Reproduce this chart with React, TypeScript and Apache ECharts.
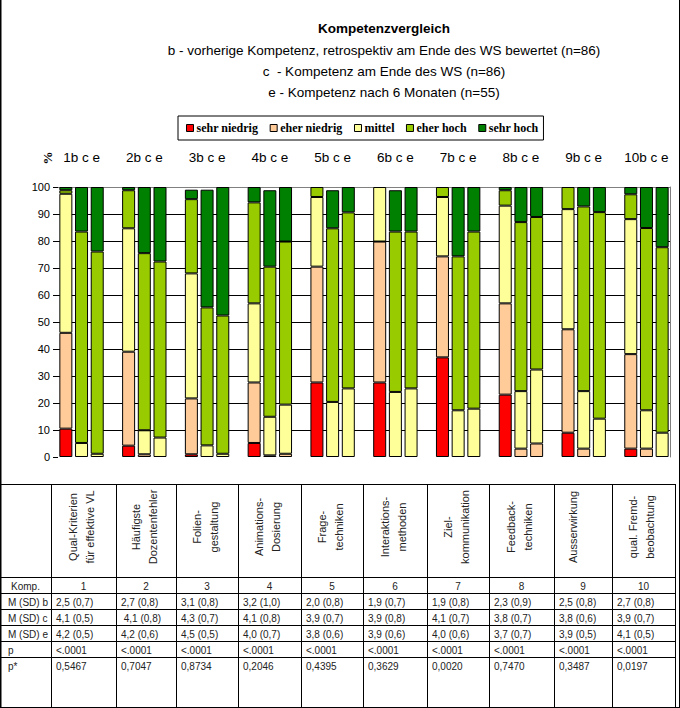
import React, { useEffect, useRef } from 'react';
import * as echarts from 'echarts';

// ---------- data ----------
const levels = ['sehr niedrig', 'eher niedrig', 'mittel', 'eher hoch', 'sehr hoch'];
const levelColors = ['#FF0000', '#FFCC99', '#FFFF99', '#99CC00', '#008000'];
const groupLabels = ['1b c e', '2b c e', '3b c e', '4b c e', '5b c e', '6b c e', '7b c e', '8b c e', '9b c e', '10b c e'];
const waves = ['b', 'c', 'e'];

// percentages, order per competence: b, c, e
const sehrNiedrig = [10.5, 0, 0, 4.2, 0, 0, 1.0, 0, 0, 5.2, 0, 0, 27.6, 0, 0, 27.6, 0, 0, 36.9, 0, 0, 23.1, 0, 0, 9.0, 0, 0, 3.1, 0, 0];
const eherNiedrig = [35.5, 0, 0, 34.8, 1.0, 0, 20.7, 0, 0, 22.4, 0.6, 1.2, 42.9, 0, 0, 52.2, 0, 0, 37.4, 0, 0, 33.8, 3.1, 5.0, 38.3, 3.1, 0, 35.0, 3.1, 0];
const mittel = [51.5, 5.2, 1.2, 45.7, 8.9, 7.2, 46.3, 4.3, 1.2, 29.3, 14.3, 18.2, 25.8, 20.4, 25.4, 20.2, 24.1, 25.4, 22.0, 17.3, 17.9, 36.2, 21.3, 27.4, 44.5, 21.3, 14.2, 50.0, 14.2, 9.0];
const eherHoch = [1.3, 78.3, 74.9, 14.1, 65.6, 65.2, 27.5, 51.1, 51.2, 37.4, 55.6, 60.4, 3.7, 64.3, 65.2, 0, 59.4, 58.1, 3.7, 57.0, 65.6, 5.7, 62.6, 56.5, 8.2, 68.4, 76.5, 9.2, 67.5, 68.7];
const sehrHoch = [1.2, 16.5, 23.9, 1.2, 24.5, 27.6, 3.5, 43.6, 47.6, 5.7, 28.3, 20.2, 0, 14.1, 9.4, 0, 15.3, 16.5, 0, 25.7, 16.5, 1.2, 13.0, 11.1, 0, 7.2, 9.3, 2.7, 15.2, 22.3];
const levelValues = [sehrNiedrig, eherNiedrig, mittel, eherHoch, sehrHoch];

const yTicks = [0, 10, 20, 30, 40, 50, 60, 70, 80, 90, 100];

// ---------- table ----------
const tableHeaders = [
  ['Qual-Kriterien', 'für effektive VL'],
  ['Häufigste', 'Dozentenfehler'],
  ['Folien-', 'gestaltung'],
  ['Animations-', 'Dosierung'],
  ['Frage-', 'techniken'],
  ['Interaktions-', 'methoden'],
  ['Ziel-', 'kommunikation'],
  ['Feedback-', 'techniken'],
  ['Ausserwirkung', ''],
  ['qual. Fremd-', 'beobachtung'],
];
const kompNumbers = ['1', '2', '3', '4', '5', '6', '7', '8', '9', '10'];
const rowLabels = ['M (SD) b', 'M (SD) c', 'M (SD) e', 'p', 'p*'];
const msdB = ['2,5 (0,7)', '2,7 (0,8)', '3,1 (0,8)', '3,2 (1,0)', '2,0 (0,8)', '1,9 (0,7)', '1,9 (0,8)', '2,3 (0,9)', '2,5 (0,8)', '2,7 (0,8)'];
const msdC = ['4,1 (0,5)', ' 4,1 (0,8)', '4,3 (0,7)', '4,1 (0,8)', '3,9 (0,7)', '3,9 (0,8)', '4,1 (0,7)', '3,8 (0,7)', '3,8 (0,6)', '3,9 (0,7)'];
const msdE = ['4,2 (0,5)', '4,2 (0,6)', '4,5 (0,5)', '4,0 (0,7)', '3,8 (0,6)', '3,9 (0,6)', '4,0 (0,6)', '3,7 (0,7)', '3,9 (0,5)', '4,1 (0,5)'];
const pValues = ['<.0001', '<.0001', '<.0001', '<.0001', '<.0001', '<.0001', '<.0001', '<.0001', '<.0001', '<.0001'];
const pStar = ['0,5467', '0,7047', '0,8734', '0,2046', '0,4395', '0,3629', '0,0020', '0,7470', '0,3487', '0,0197'];
const tableRows = [msdB, msdC, msdE, pValues, pStar];

// layout constants
const colX = [0, 51, 116, 176, 238, 301, 363, 427, 489, 554, 612, 675];
const rowY = [484, 577, 593, 609, 625, 641, 657, 707];

function buildOption() {
  const categories: string[] = [];
  const indexMap: number[] = []; // category index -> bar index or -1
  groupLabels.forEach((_, g) => {
    waves.forEach((w, k) => {
      categories.push(`${g + 1}${w}`);
      indexMap.push(g * 3 + k);
    });
    if (g < groupLabels.length - 1) {
      categories.push(`gap${g + 1}`);
      indexMap.push(-1);
    }
  });

  const series = levels.map((name, li) => ({
    name,
    type: 'bar',
    stack: 'total',
    barWidth: 13,
    xAxisIndex: 0,
    yAxisIndex: 0,
    itemStyle: { color: levelColors[li], borderColor: '#000', borderWidth: 1 },
    emphasis: { disabled: true },
    data: indexMap.map((bi) => {
      if (bi < 0) return '-';
      const v = levelValues[li][bi];
      return v > 0 ? v : '-';
    }),
  }));

  const font = 'Liberation Sans';
  const graphics: any[] = [];
  const line = (x1: number, y1: number, x2: number, y2: number, color = '#000', w = 1) => {
    graphics.push({
      type: 'line',
      silent: true,
      shape: { x1, y1, x2, y2 },
      style: { stroke: color, lineWidth: w },
    });
  };
  const text = (x: number, y: number, t: string, opts: any = {}) => {
    graphics.push({
      type: 'text',
      silent: true,
      x,
      y,
      rotation: opts.rotation || 0,
      style: {
        text: t,
        fill: opts.color || '#000',
        fontFamily: opts.fontFamily || font,
        fontSize: opts.fontSize || 10,
        fontWeight: opts.fontWeight || 'normal',
        align: opts.align || 'left',
        verticalAlign: 'middle',
        lineHeight: opts.lineHeight,
      },
    });
  };

  // titles
  text(384, 28, 'Kompetenzvergleich', { fontSize: 13.5, fontWeight: 'bold', align: 'center' });
  text(384, 50, 'b - vorherige Kompetenz, retrospektiv am Ende des WS bewertet (n=86)', { fontSize: 13.5, align: 'center' });
  text(384, 71, 'c  - Kompetenz am Ende des WS (n=86)', { fontSize: 13.5, align: 'center' });
  text(384, 92, 'e - Kompetenz nach 6 Monaten (n=55)', { fontSize: 13.5, align: 'center' });
  text(47, 158, '%', { fontSize: 13, fontWeight: 'bold', fontFamily: 'Liberation Serif', align: 'center', rotation: Math.PI / 2 });

  // frame
  line(0.5, 0, 0.5, 708, '#000', 2);
  line(679.5, 0, 679.5, 708, '#000', 1);
  line(0, 707.5, 680, 707.5, '#000', 1);

  // table grid
  rowY.forEach((y) => line(0, y + 0.5, colX[colX.length - 1] + 0.5, y + 0.5));
  colX.forEach((x) => line(x + 0.5, rowY[0], x + 0.5, rowY[rowY.length - 1]));

  // header (rotated)
  tableHeaders.forEach((lines, i) => {
    const cx = (colX[i + 1] + colX[i + 2]) / 2 - 2;
    text(cx, 527, lines.join('\n'), { fontSize: 11, align: 'center', rotation: Math.PI / 2, lineHeight: 17, color: '#222' });
  });

  // Komp. row
  const kompY = (rowY[1] + rowY[2]) / 2 + 1;
  text((colX[0] + colX[1]) / 2, kompY, 'Komp.', { fontSize: 10, align: 'center', color: '#222' });
  kompNumbers.forEach((n, i) => {
    text((colX[i + 1] + colX[i + 2]) / 2, kompY, n, { fontSize: 10, align: 'center', color: '#222' });
  });

  // data rows
  tableRows.forEach((vals, r) => {
    const y = r < 4 ? (rowY[r + 2] + rowY[r + 3]) / 2 + 1 : rowY[r + 2] + 9;
    text(8, y, rowLabels[r], { fontSize: 10, color: '#222' });
    vals.forEach((v, i) => {
      text(colX[i + 1] + 5, y, v, { fontSize: 10, color: '#222' });
    });
  });

  const splitColors = yTicks.map((t, i) => (i === 0 ? 'rgba(0,0,0,0)' : i === yTicks.length - 1 ? '#808080' : '#000'));

  return {
    animation: false,
    textStyle: { fontFamily: font },
    legend: {
      data: levels,
      left: 178,
      top: 116,
      orient: 'horizontal',
      icon: 'rect',
      itemWidth: 7,
      itemHeight: 7,
      itemGap: 11.5,
      padding: [6, 5, 6, 8],
      borderColor: '#000',
      borderWidth: 1,
      selectedMode: false,
      itemStyle: { borderColor: '#000', borderWidth: 1 },
      textStyle: { fontFamily: 'Liberation Serif', fontWeight: 'bold', fontSize: 12, color: '#000', padding: [0, 0, 0, -2] },
    },
    grid: { left: 58, right: 10, top: 187, bottom: 251, containLabel: false },
    xAxis: [
      {
        type: 'category',
        data: categories,
        axisLine: { show: false },
        axisTick: { show: false },
        axisLabel: { show: false },
      },
      {
        type: 'category',
        data: categories,
        position: 'top',
        axisLine: { show: false },
        axisTick: { show: false },
        axisLabel: {
          interval: 0,
          margin: 23,
          fontSize: 13.5,
          color: '#000',
          formatter: (_v: string, idx: number) => (idx % 4 === 1 ? groupLabels[Math.floor(idx / 4)] : ''),
        },
      },
    ],
    yAxis: [
      {
        type: 'value',
        min: 0,
        max: 100,
        interval: 10,
        axisLine: { show: false },
        axisTick: { show: true, length: 5, lineStyle: { color: '#000' } },
        axisLabel: { fontSize: 11, color: '#000', margin: 8 },
        splitLine: { show: true, lineStyle: { color: splitColors, width: 1 } },
      },
      {
        type: 'value',
        min: 0,
        max: 100,
        interval: 10,
        position: 'right',
        axisLine: { show: true, lineStyle: { color: '#808080' } },
        axisTick: { show: false },
        axisLabel: { show: false },
        splitLine: { show: false },
      },
    ],
    series,
    graphic: graphics,
  };
}

export default function App() {
  const ref = useRef<HTMLDivElement>(null);
  useEffect(() => {
    if (!ref.current) return;
    const chart = echarts.init(ref.current, null, { renderer: 'svg' });
    chart.setOption(buildOption() as any);
    return () => chart.dispose();
  }, []);
  return (
    <div
      ref={ref}
      style={{ position: 'absolute', left: 0, top: 0, width: 680, height: 708, background: '#fff' }}
    />
  );
}
